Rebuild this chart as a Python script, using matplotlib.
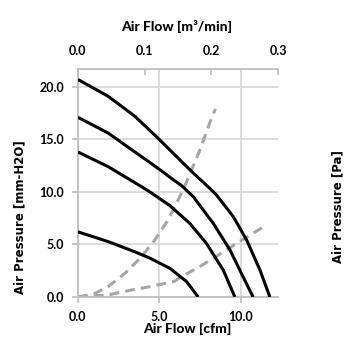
import matplotlib
matplotlib.use("Agg")
import matplotlib.pyplot as plt

# fan curves (cfm, mm-H2O)
fan1_x = [0.0, 1.86, 3.5, 4.93, 6.56, 7.09, 8.2, 8.52, 9.55, 10.37, 11.19, 11.8]
fan1_y = [20.7, 19.1, 17.2, 15.1, 12.6, 11.8, 10.2, 9.7, 7.65, 5.43, 2.57, 0.0]
fan2_x = [0.0, 1.86, 3.5, 4.42, 5.14, 5.65, 6.37, 7.09, 8.32, 9.34, 10.16, 10.77]
fan2_y = [17.1, 15.6, 13.8, 12.8, 12.0, 11.4, 10.6, 9.55, 7.0, 4.5, 1.9, 0.0]
fan3_x = [0.0, 1.86, 3.91, 4.42, 5.65, 6.88, 7.9, 8.93, 9.65]
fan3_y = [13.8, 12.4, 10.5, 10.0, 8.7, 7.0, 5.1, 2.57, 0.0]
fan4_x = [0.0, 1.86, 3.5, 4.42, 5.65, 6.68, 7.39]
fan4_y = [6.2, 5.27, 4.3, 3.7, 2.73, 1.46, 0.0]

# system impedance curves
imp1_x = [0.0, 1.0, 1.86, 2.89, 3.91, 4.73, 5.54, 6.47, 7.5, 8.2, 8.45]
imp1_y = [0.0, 0.3, 1.0, 2.25, 3.84, 5.43, 7.33, 10.2, 14.0, 17.0, 17.9]
imp2_x = [0.0, 1.86, 3.3, 4.42, 5.95, 6.27, 7.6, 8.32, 9.75, 11.49]
imp2_y = [0.0, 0.2, 0.67, 0.98, 1.5, 1.85, 3.0, 3.68, 5.1, 6.76]

xticks = [0.0, 5.0, 10.0]
yticks = [0.0, 5.0, 10.0, 15.0, 20.0]
top_ticks = [0.0, 0.1, 0.2, 0.3]

narrow = ["Lato", "DejaVu Sans"]
grid_c = "#d9d9d9"
spine_c = "#bfbfbf"

fig = plt.figure(figsize=(3.55, 3.55), dpi=100)
ax = fig.add_axes([0.2197, 0.1634, 0.5634, 0.6422])

for x, y in [(fan1_x, fan1_y), (fan2_x, fan2_y), (fan3_x, fan3_y), (fan4_x, fan4_y)]:
    ax.plot(x, y, color="black", lw=2.2, solid_capstyle="butt",
            solid_joinstyle="round", zorder=3)
for x, y in [(imp1_x, imp1_y), (imp2_x, imp2_y)]:
    ax.plot(x, y, color="#a6a6a6", lw=2.2, dashes=(3.2, 2.0), zorder=2)

ax.set_xlim(0, 12.3)
ax.set_ylim(0, 21.7)
ax.set_xticks(xticks)
ax.set_yticks(yticks)
ax.set_xticklabels([f"{v:.1f}" for v in xticks], family=narrow, fontsize=9,
                   fontweight="bold")
ax.set_yticklabels([f"{v:.1f}" for v in yticks], family=narrow, fontsize=9,
                   fontweight="bold")
ax.grid(True, color=grid_c, lw=1.3)
ax.set_axisbelow(True)
ax.tick_params(length=4, width=1.2, color=spine_c, pad=6)
for s in ["left", "bottom"]:
    ax.spines[s].set_color(spine_c)
    ax.spines[s].set_linewidth(1.3)
ax.spines["right"].set_visible(False)
ax.spines["top"].set_visible(False)

top = ax.twiny()
top.set_xlim(0, 0.3)
top.set_xticks(top_ticks)
top.set_xticklabels([f"{v:.1f}" for v in top_ticks], family=narrow, fontsize=9,
                    fontweight="bold")
top.tick_params(direction="in", length=4, width=1.2, color=spine_c, pad=9)
for s in ["left", "bottom", "right"]:
    top.spines[s].set_visible(False)
top.spines["top"].set_color(spine_c)
top.spines["top"].set_linewidth(1.3)

fig.text(0.498, 0.924, "Air Flow [m\u00b3/min]", ha="center", va="center",
         family=narrow, fontsize=10, fontweight="black")
fig.text(0.527, 0.074, "Air Flow [cfm]", ha="center", va="center",
         family=narrow, fontsize=10, fontweight="black")
fig.text(0.056, 0.389, "Air Pressure [mm-H2O]", ha="center", va="center",
         rotation=90, fontsize=8.5, fontweight="bold")
fig.text(0.952, 0.417, "Air Pressure [Pa]", ha="center", va="center",
         rotation=90, fontsize=8.5, fontweight="bold")

fig.savefig("out.png", dpi=100)
